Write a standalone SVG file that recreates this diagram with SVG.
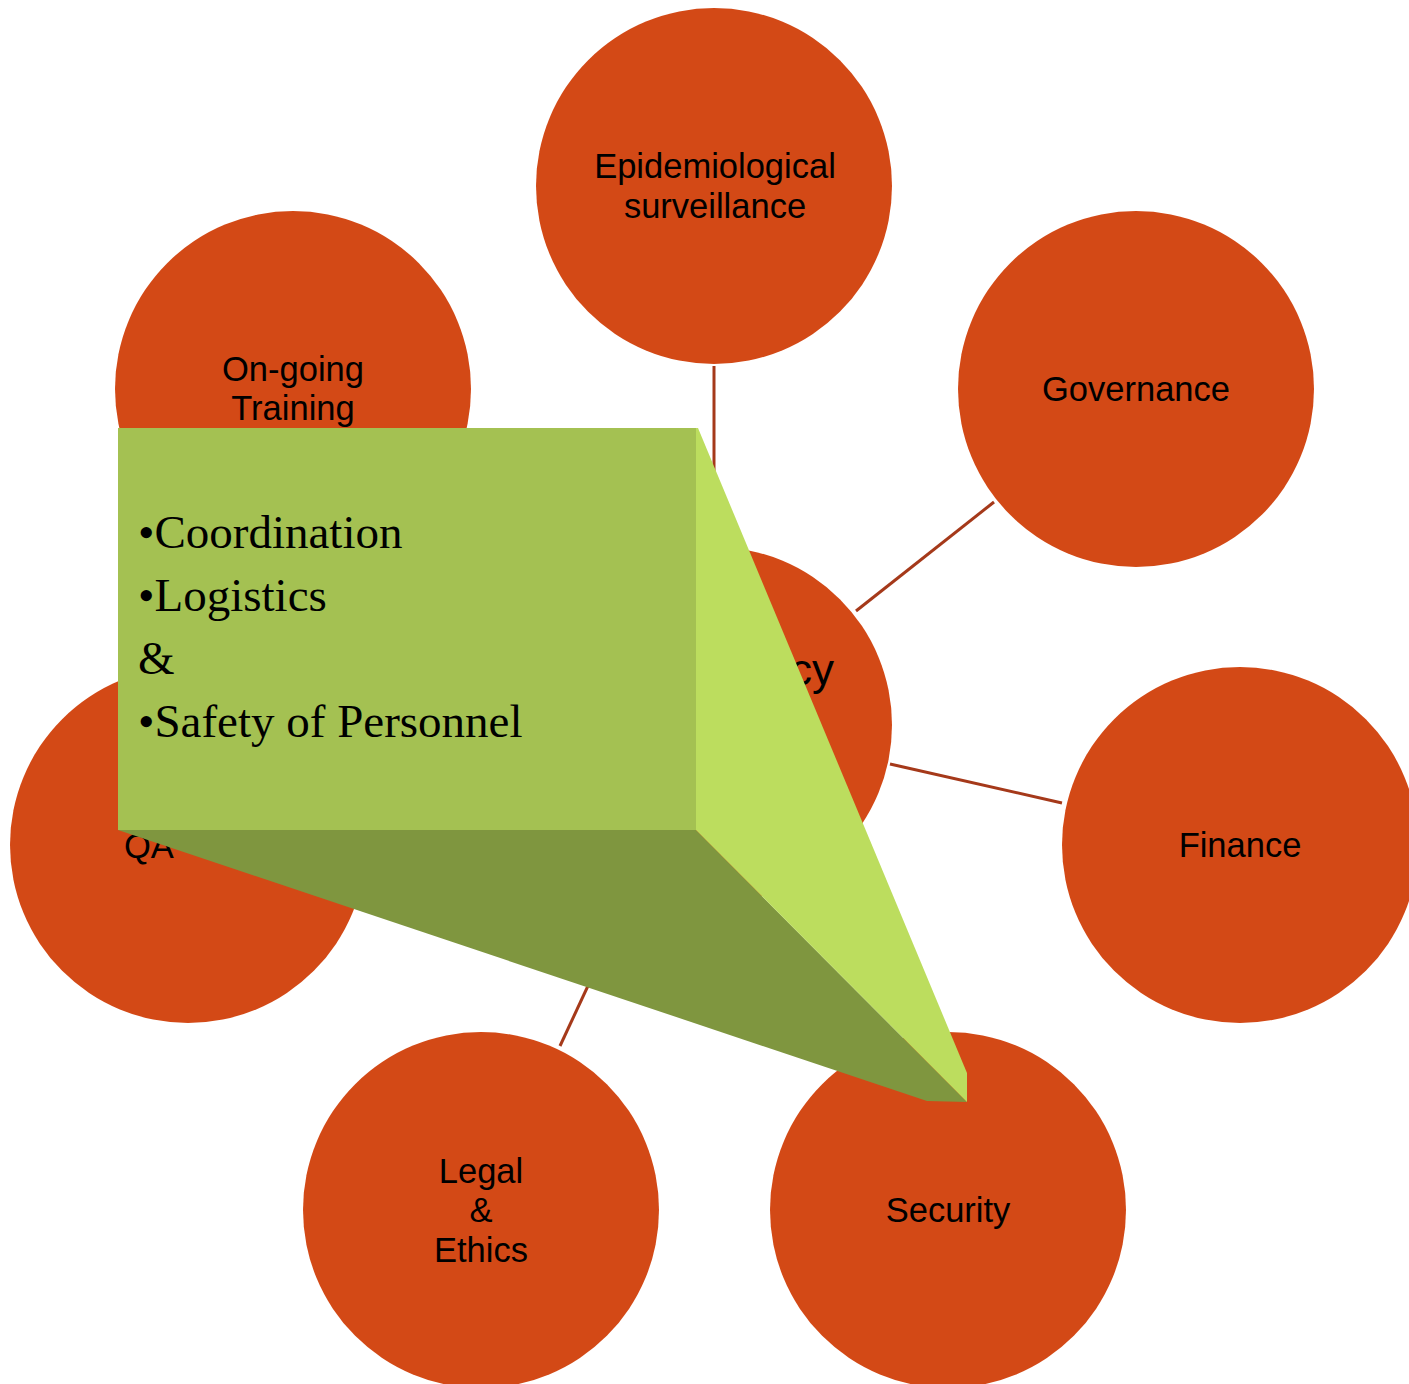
<svg xmlns="http://www.w3.org/2000/svg" width="1409" height="1384" viewBox="0 0 1409 1384">
<style>
.node{fill:#D34916}
.lbl{font-family:"Liberation Sans",Arial,sans-serif;font-size:34.5px;fill:#000;text-anchor:middle}
.con{stroke:#A5391A;stroke-width:3;fill:none}
.gt{font-family:"Liberation Serif","Times New Roman",serif;font-size:47px;fill:#000}
</style>
<rect width="1409" height="1384" fill="#fff"/>
<g id="connectors">
<line class="con" x1="714" y1="366" x2="714" y2="548"/>
<line class="con" x1="994" y1="502" x2="856" y2="611"/>
<line class="con" x1="890" y1="764" x2="1062" y2="803"/>
<line class="con" x1="560" y1="1046" x2="600" y2="960"/>
</g>
<g id="node-epi"><circle class="node" cx="714" cy="186" r="178"/><text class="lbl" x="715" y="178">Epidemiological</text><text class="lbl" x="715" y="218">surveillance</text></g>
<g id="node-governance"><circle class="node" cx="1136" cy="389" r="178"/><text class="lbl" x="1136" y="401">Governance</text></g>
<g id="node-training"><circle class="node" cx="293" cy="389" r="178"/><text class="lbl" x="293" y="381">On-going</text><text class="lbl" x="293" y="420">Training</text></g>
<g id="node-finance"><circle class="node" cx="1240" cy="845" r="178"/><text class="lbl" x="1240" y="857">Finance</text></g>
<g id="node-security"><circle class="node" cx="948" cy="1210" r="178"/><text class="lbl" x="948" y="1222">Security</text></g>
<g id="node-legal"><circle class="node" cx="481" cy="1210" r="178"/><text class="lbl" x="481" y="1183">Legal</text><text class="lbl" x="481" y="1222">&amp;</text><text class="lbl" x="481" y="1262">Ethics</text></g>
<g id="node-qa"><circle class="node" cx="188" cy="845" r="178"/><text class="lbl" x="124" y="858" style="text-anchor:start">QA</text></g>
<g id="node-center"><circle class="node" cx="714" cy="725" r="178"/><text class="lbl" x="834" y="685" style="text-anchor:end;font-size:44px">cy</text></g>
<g id="callout">
<polygon points="118,830 696,830 967,1102 927,1101" fill="#7F963F"/>
<polygon points="696,428 698,428 967,1073 967,1102 696,830" fill="#BCDD5E"/>
<rect x="118" y="428" width="578" height="402" fill="#A4C152"/>
<text class="gt" x="138" y="548">•Coordination</text>
<text class="gt" x="138" y="611">•Logistics</text>
<text class="gt" x="138" y="674">&amp;</text>
<text class="gt" x="138" y="737">•Safety of Personnel</text>
</g>
</svg>
